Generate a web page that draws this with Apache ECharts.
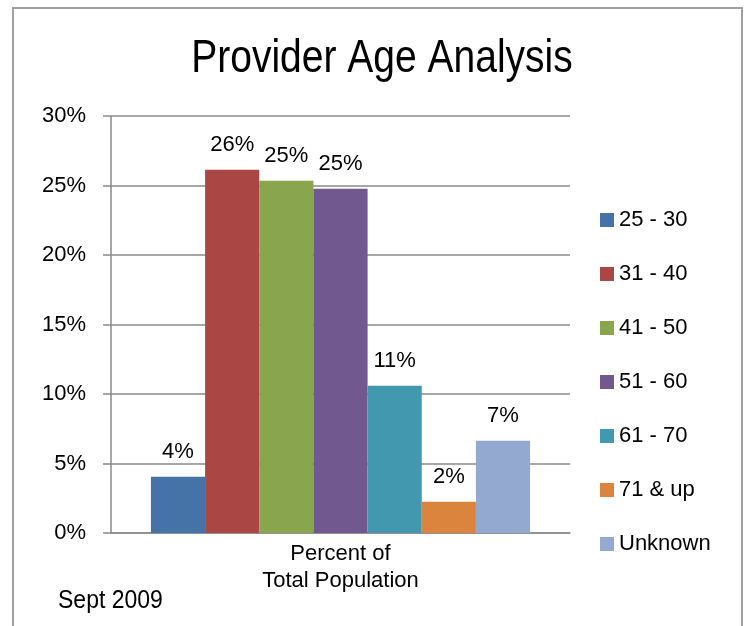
<!DOCTYPE html>
<html><head><meta charset="utf-8">
<script src="https://cdn.jsdelivr.net/npm/echarts@6/dist/echarts.min.js"></script>
<style>html,body{margin:0;padding:0;background:#fff}#c{width:756px;height:626px}</style>
</head><body><div id="c"></div>
<script>
const categories = ['Percent of\nTotal Population'];
const seriesNames = ['25 - 30','31 - 40','41 - 50','51 - 60','61 - 70','71 & up','Unknown'];
const seriesValues = [4.05, 26.14, 25.35, 24.77, 10.6, 2.25, 6.64];
const seriesColors = ['#4572A7','#AA4643','#89A54E','#71588F','#4198AF','#DB843D','#93A9CF'];
const yTicks = [0,5,10,15,20,25,30];
const titleText = 'Provider Age Analysis';
const noteText = 'Sept 2009';
const FONT = '"Liberation Sans",Arial,sans-serif';

const chart = echarts.init(document.getElementById('c'), null, {renderer:'canvas'});
chart.setOption({
  backgroundColor:'#fff',
  animation:false,
  textStyle:{fontFamily:FONT},
  graphic:[
    {type:'rect', shape:{x:13,y:8,width:729,height:700}, style:{fill:'none', stroke:'#a0a0a0', lineWidth:2}, z:-1},
    {type:'text', x:382, y:59, scaleY:1.2, style:{x:0, y:0, text:titleText, font:'39px '+FONT, fill:'#000', align:'center', verticalAlign:'middle'}},
    {type:'text', x:58, y:601, scaleY:1.15, style:{x:0, y:0, text:noteText, font:'23px '+FONT, fill:'#000', align:'left', verticalAlign:'middle'}}
  ],
  legend:{orient:'vertical', left:600, top:209, padding:0, itemWidth:14, itemHeight:14, itemGap:32,
    icon:'rect',
    textStyle:{fontFamily:FONT, fontSize:22, color:'#000', lineHeight:22},
    data:seriesNames},
  grid:{left:111, right:186, top:116, bottom:93},
  xAxis:{type:'category', data:categories,
    axisLine:{lineStyle:{color:'#8a8a8a', width:1.5}},
    axisTick:{show:false},
    axisLabel:{fontFamily:FONT, fontSize:22, color:'#000', lineHeight:27, margin:7}},
  yAxis:{type:'value', min:yTicks[0], max:yTicks[yTicks.length-1], interval:5,
    axisLine:{show:true, lineStyle:{color:'#8a8a8a', width:1.5}},
    axisTick:{show:true, inside:false, length:8, lineStyle:{color:'#8a8a8a', width:1.5}},
    splitLine:{lineStyle:{color:'#8a8a8a', width:1.5}},
    axisLabel:{fontFamily:FONT, fontSize:22, color:'#000', margin:25, formatter:v=>v+'%'}},
  series: seriesNames.map((n,i)=>({
    name:n, type:'bar', data:[seriesValues[i]],
    itemStyle:{color:seriesColors[i]},
    barGap:'0%', barCategoryGap:'17.4%',
    label:{show:true, position:'top', distance:14, fontFamily:FONT, fontSize:22, color:'#000',
      formatter:p=>Math.round(p.value)+'%'}
  }))
});
</script></body></html>
